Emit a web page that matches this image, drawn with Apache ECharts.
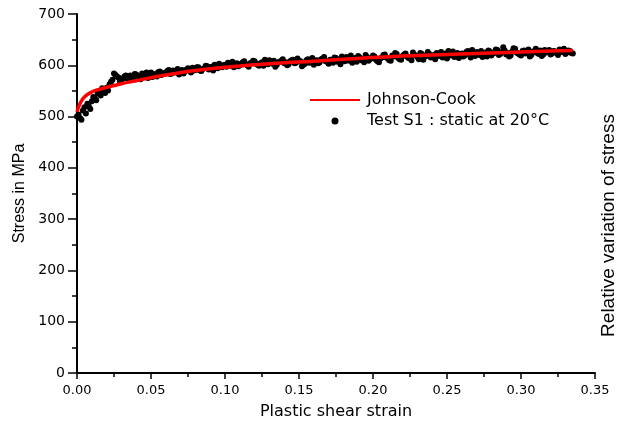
<!DOCTYPE html>
<html>
<head>
<meta charset="utf-8">
<script src="https://cdn.jsdelivr.net/npm/echarts@6/dist/echarts.min.js"></script>
<style>
html,body{margin:0;padding:0;background:#fff;}
#chart{width:626px;height:426px;}
</style>
</head>
<body>
<div id="chart"></div>
<script>
// Johnson-Cook model curve
var jcStrain = [0, 0.002, 0.005, 0.01, 0.015, 0.02, 0.03, 0.04, 0.05, 0.06, 0.08, 0.10, 0.12, 0.14, 0.16, 0.18, 0.20, 0.22, 0.24, 0.26, 0.28, 0.30, 0.32, 0.335];
var jcStress = [509, 525, 538, 548, 553, 557, 564, 570, 576, 581, 590, 596, 601, 605, 608, 612, 615, 618, 620, 622, 624, 626, 628, 629];

// Test S1 : static at 20°C — measured points, set A
var testStrainA = [
  0.000,0.002,0.004,0.006,0.008,0.010,0.012,0.014,0.016,0.018,
  0.020,0.022,0.024,0.026,0.028,0.030,0.032,0.034,0.036,0.038,
  0.040,0.042,0.044,0.046,0.048,0.050,0.052,0.054,0.056,0.058,
  0.060,0.062,0.064,0.066,0.068,0.070,0.072,0.074,0.076,0.078,
  0.080,0.082,0.084,0.086,0.088,0.090,0.092,0.094,0.096,0.098,
  0.100,0.102,0.104,0.106,0.108,0.110,0.112,0.114,0.116,0.118,
  0.120,0.122,0.124,0.126,0.128,0.130,0.132,0.134,0.136,0.138,
  0.140,0.142,0.144,0.146,0.148,0.150,0.152,0.154,0.156,0.158,
  0.160,0.162,0.164,0.166,0.168,0.170,0.172,0.174,0.176,0.178,
  0.180,0.182,0.184,0.186,0.188,0.190,0.192,0.194,0.196,0.198,
  0.200,0.202,0.204,0.206,0.208,0.210,0.212,0.214,0.216,0.218,
  0.220,0.222,0.224,0.226,0.228,0.230,0.232,0.234,0.236,0.238,
  0.240,0.242,0.244,0.246,0.248,0.250,0.252,0.254,0.256,0.258,
  0.260,0.262,0.264,0.266,0.268,0.270,0.272,0.274,0.276,0.278,
  0.280,0.282,0.284,0.286,0.288,0.290,0.292,0.294,0.296,0.298,
  0.300,0.302,0.304,0.306,0.308,0.310,0.312,0.314,0.316,0.318,
  0.320,0.322,0.324,0.326,0.328,0.330,0.332,0.334
];
var testStressA = [
  500,497,512,506,520,530,536,545,541,552,
  556,563,572,581,576,571,578,574,580,576,
  582,577,584,579,575,586,581,578,588,583,
  586,591,584,588,593,587,584,592,590,595,
  591,596,589,594,598,593,590,599,603,596,
  601,605,599,596,604,600,606,602,597,605,
  608,601,604,599,607,610,603,597,606,609,
  604,600,608,611,605,609,598,603,612,607,
  601,610,606,613,608,603,611,615,607,602,
  612,616,609,605,614,618,610,606,616,612,
  619,611,606,615,621,613,609,617,622,612,
  618,623,614,610,620,616,624,611,618,622,
  616,612,621,626,617,613,620,627,618,614,
  623,619,628,615,622,626,620,616,625,629,
  619,624,630,622,635,621,617,627,632,623,
  619,629,625,617,627,632,622,618,630,626,
  621,628,624,631,626,622,629,624
];
// measured points, set B
var testStrainB = [
  0.001,0.003,0.005,0.007,0.009,0.011,0.013,0.015,0.017,0.019,
  0.021,0.023,0.025,0.027,0.029,0.031,0.033,0.035,0.037,0.039,
  0.041,0.043,0.045,0.047,0.049,0.051,0.053,0.055,0.057,0.059,
  0.061,0.063,0.065,0.067,0.069,0.071,0.073,0.075,0.077,0.079,
  0.081,0.083,0.085,0.087,0.089,0.091,0.093,0.095,0.097,0.099,
  0.101,0.103,0.105,0.107,0.109,0.111,0.113,0.115,0.117,0.119,
  0.121,0.123,0.125,0.127,0.129,0.131,0.133,0.135,0.137,0.139,
  0.141,0.143,0.145,0.147,0.149,0.151,0.153,0.155,0.157,0.159,
  0.161,0.163,0.165,0.167,0.169,0.171,0.173,0.175,0.177,0.179,
  0.181,0.183,0.185,0.187,0.189,0.191,0.193,0.195,0.197,0.199,
  0.201,0.203,0.205,0.207,0.209,0.211,0.213,0.215,0.217,0.219,
  0.221,0.223,0.225,0.227,0.229,0.231,0.233,0.235,0.237,0.239,
  0.241,0.243,0.245,0.247,0.249,0.251,0.253,0.255,0.257,0.259,
  0.261,0.263,0.265,0.267,0.269,0.271,0.273,0.275,0.277,0.279,
  0.281,0.283,0.285,0.287,0.289,0.291,0.293,0.295,0.297,0.299,
  0.301,0.303,0.305,0.307,0.309,0.311,0.313,0.315,0.317,0.319,
  0.321,0.323,0.325,0.327,0.329,0.331,0.333,0.335
];
var testStressB = [
  504,494,518,525,515,538,532,548,555,546,
  551,568,584,578,569,574,580,572,577,583,
  579,573,581,586,580,577,583,587,581,585,
  589,583,590,586,582,591,588,594,586,590,
  596,590,593,599,592,597,601,594,598,600,
  597,603,607,601,598,603,608,600,604,609,
  603,599,606,611,602,605,609,601,607,612,
  606,602,610,604,613,608,601,610,605,614,
  609,604,612,616,607,611,605,614,610,617,
  608,613,619,611,607,615,612,620,609,614,
  617,608,613,620,615,610,619,624,614,611,
  621,617,613,625,619,612,622,618,626,615,
  620,624,618,615,623,628,619,616,624,621,
  617,626,622,630,618,624,628,621,617,627,
  623,631,620,626,629,624,619,633,625,621,
  628,623,631,620,626,624,629,621,625,630,
  623,627,620,626,632,625,628,623
];

var xTicks = ['0.00','0.05','0.10','0.15','0.20','0.25','0.30','0.35'];
var yTicks = [0,100,200,300,400,500,600,700];

var jcData = jcStrain.map(function(x,i){return [x, jcStress[i]];});
var testData = testStrainA.map(function(x,i){return [x, testStressA[i]];})
  .concat(testStrainB.map(function(x,i){return [x, testStressB[i]];}));

var chart = echarts.init(document.getElementById('chart'), null, {renderer:'canvas'});
var axisFont = 'DejaVu Sans';
chart.setOption({
  backgroundColor:'#fff',
  animation:false,
  grid:{left:77,right:17,top:14,bottom:53,containLabel:false},
  legend:{
    left:310, top:92, orient:'vertical', itemWidth:50, itemHeight:7, itemGap:5,
    padding:0, symbolKeepAspect:true,
    textStyle:{fontFamily:axisFont,fontSize:16,color:'#000',padding:[0,0,0,2]},
    data:[
      {name:'Johnson-Cook', icon:'path://M0,0L50,0L50,2.2L0,2.2Z', itemStyle:{color:'#ff0000'}},
      {name:'Test S1 : static at 20°C', icon:'circle', itemStyle:{color:'#000'}}
    ]
  },
  xAxis:{
    type:'value', min:0, max:0.35, interval:0.05,
    name:'Plastic shear strain', nameLocation:'middle', nameGap:31,
    nameTextStyle:{fontFamily:axisFont,fontSize:16,color:'#000'},
    axisLine:{show:true,onZero:false,lineStyle:{color:'#000',width:2}},
    axisTick:{show:true,inside:false,length:6,lineStyle:{color:'#000',width:1.5}},
    minorTick:{show:true,splitNumber:2,length:4,lineStyle:{color:'#000',width:1.5}},
    splitLine:{show:false},
    axisLabel:{margin:11,fontFamily:axisFont,fontSize:13,color:'#000',
      formatter:function(v){var i=Math.round(v/0.05);return xTicks[i]!==undefined?xTicks[i]:'';}}
  },
  yAxis:[{
    type:'value', min:0, max:700, interval:100,
    name:'Stress in MPa', nameLocation:'middle', nameGap:49, nameRotate:90,
    nameTextStyle:{fontFamily:'Liberation Sans',fontSize:16,color:'#000'},
    axisLine:{show:true,onZero:false,lineStyle:{color:'#000',width:2}},
    axisTick:{show:true,inside:false,length:9,lineStyle:{color:'#000',width:1.5}},
    minorTick:{show:true,splitNumber:2,length:5,lineStyle:{color:'#000',width:1.5}},
    splitLine:{show:false},
    axisLabel:{margin:12,fontFamily:axisFont,fontSize:14,color:'#000',
      formatter:function(v){return yTicks.indexOf(v)>=0?String(v):'';}}
  },{
    type:'value', min:0, max:700, position:'right',
    name:'Relative variation of stress', nameLocation:'middle', nameGap:4, nameRotate:90,
    nameTextStyle:{fontFamily:'Liberation Sans',fontSize:19,color:'#000',padding:[0,64,0,0]},
    axisLine:{show:false}, axisTick:{show:false}, axisLabel:{show:false}, splitLine:{show:false}
  }],
  series:[
    {
      name:'Test S1 : static at 20°C', type:'scatter', data:testData,
      symbol:'circle', symbolSize:6, itemStyle:{color:'#000',opacity:1}, z:2
    },
    {
      name:'Johnson-Cook', type:'line', data:jcData, smooth:true, symbol:'none', showSymbol:false,
      lineStyle:{color:'#ff0000',width:3.5}, itemStyle:{color:'#ff0000'}, z:3
    }
  ]
});
</script>
</body>
</html>
